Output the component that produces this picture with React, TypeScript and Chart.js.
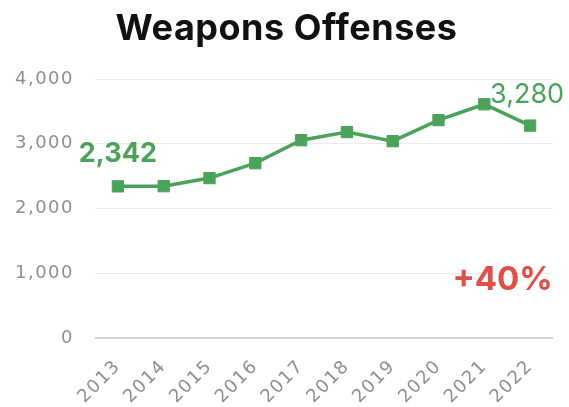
import React, { useEffect, useRef } from "react";
import { Chart, registerables } from "chart.js";

Chart.register(...registerables);

const years = ["2013", "2014", "2015", "2016", "2017", "2018", "2019", "2020", "2021", "2022"];
const offenses = [2342, 2345, 2470, 2700, 3055, 3180, 3040, 3365, 3610, 3280];
const yTicks = [0, 1000, 2000, 3000, 4000];
const titleText = "Weapons Offenses";
const startLabel = "2,342";
const endLabel = "3,280";
const changeLabel = "+40%";

const GREEN = "#4ba35a";
const RED = "#e0504a";
const GRAY = "#8f8f8f";
const FONT = "Inter, 'Liberation Sans', Arial, sans-serif";
const TICK_FONT = "'DejaVu Sans', Verdana, sans-serif";
const TICK_SPACING = "1.5px";

const spacingPlugin = {
  id: "tickSpacing",
  beforeUpdate(chart: any) {
    chart.ctx.letterSpacing = TICK_SPACING;
  },
  beforeDraw(chart: any) {
    chart.ctx.letterSpacing = TICK_SPACING;
  },
};

const annotationPlugin = {
  id: "annotations",
  afterDatasetsDraw(chart: any) {
    const { ctx, scales, width } = chart;
    const x = scales.x;
    const y = scales.y;
    ctx.save();
    ctx.textAlign = "center";
    ctx.textBaseline = "alphabetic";
    ctx.font = `bold 36px ${FONT}`;
    ctx.fillStyle = "#111";
    ctx.letterSpacing = "0.5px";
    ctx.fillText(titleText, width / 2 + 2, 40);
    ctx.letterSpacing = "0px";
    ctx.font = `bold 27px ${FONT}`;
    ctx.fillStyle = GREEN;
    ctx.fillText(startLabel, x.getPixelForValue(0), y.getPixelForValue(offenses[0]) - 24);
    ctx.font = `normal 27px ${FONT}`;
    ctx.fillText(endLabel, x.getPixelForValue(offenses.length - 1) - 3, y.getPixelForValue(offenses[offenses.length - 1]) - 23);
    ctx.font = `bold 33px ${FONT}`;
    ctx.fillStyle = RED;
    ctx.textBaseline = "middle";
    ctx.fillText(changeLabel, x.getPixelForValue(8.4), y.getPixelForValue(900));
    ctx.restore();
  },
};

export default function App() {
  const ref = useRef<HTMLCanvasElement | null>(null);
  useEffect(() => {
    document.body.style.margin = "0";
    if (!ref.current) return;
    const chart = new Chart(ref.current, {
      type: "line",
      data: {
        labels: years,
        datasets: [
          {
            data: offenses,
            borderColor: GREEN,
            backgroundColor: GREEN,
            borderWidth: 3.5,
            pointStyle: "rect",
            pointRadius: 8,
            pointBorderWidth: 1,
            tension: 0,
          },
        ],
      },
      options: {
        responsive: false,
        animation: false,
        devicePixelRatio: 1,
        layout: { padding: { top: 79, right: 16, bottom: 0, left: 0 } },
        plugins: {
          legend: { display: false },
          tooltip: { enabled: false },
          title: { display: false },
        },
        scales: {
          x: {
            offset: true,
            grid: { display: false },
            border: { display: false },
            ticks: {
              color: GRAY,
              font: { family: TICK_FONT, size: 18 },
              minRotation: 45,
              maxRotation: 45,
              padding: 10,
            },
            afterFit(scale: any) {
              scale.height = 69;
            },
          },
          y: {
            min: 0,
            max: 4000,
            border: { display: false },
            grid: {
              drawTicks: false,
              color: (c: any) => (c.tick && c.tick.value === 0 ? "#d2d2d2" : "#ebebeb"),
              lineWidth: (c: any) => (c.tick && c.tick.value === 0 ? 2 : 1),
            },
            afterBuildTicks(scale: any) {
              scale.ticks = yTicks.map((v) => ({ value: v }));
            },
            ticks: {
              color: GRAY,
              font: { family: TICK_FONT, size: 18 },
              padding: 21,
              callback: (v: any) => Number(v).toLocaleString("en-US"),
            },
            afterFit(scale: any) {
              scale.width = 95;
            },
          },
        },
      },
      plugins: [spacingPlugin, annotationPlugin],
    });
    return () => chart.destroy();
  }, []);
  return (
    <div style={{ width: 569, height: 407 }}>
      <canvas ref={ref} width={569} height={407} />
    </div>
  );
}
